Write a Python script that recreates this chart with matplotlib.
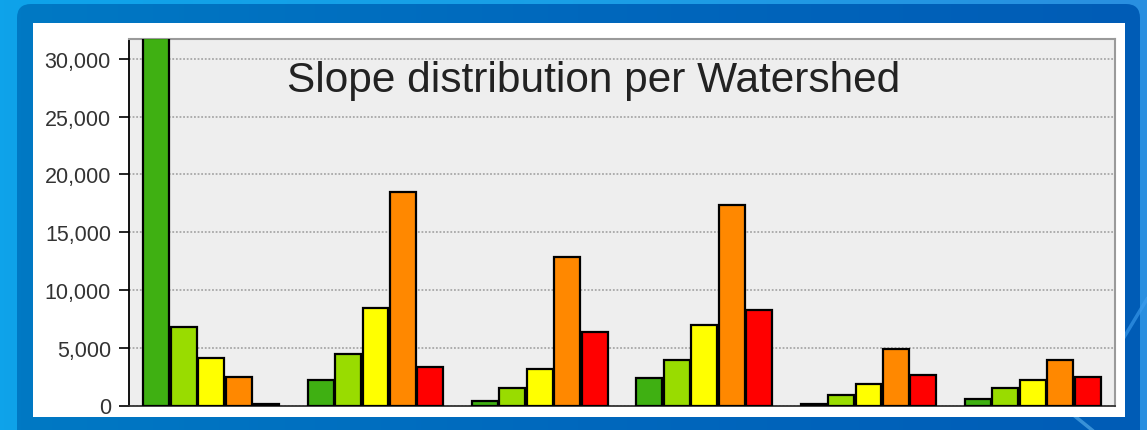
import numpy as np
import matplotlib
matplotlib.use("Agg")
import matplotlib.pyplot as plt
from matplotlib.patches import FancyBboxPatch, Rectangle
from matplotlib.colors import LinearSegmentedColormap
from matplotlib.ticker import FuncFormatter

plt.rcParams['font.family'] = ['Liberation Sans', 'DejaVu Sans']

# Watershed groups and slope classes
watersheds = ["WS1", "WS2", "WS3", "WS4", "WS5", "WS6"]
slope_classes = ["Flat", "Gentle", "Moderate", "Steep", "Very steep"]
class_colors = ["#3fb012", "#99dc00", "#ffff00", "#ff8800", "#ff0000"]

flat = [31800, 2240, 360, 2410, 150, 560]
gentle = [6770, 4490, 1490, 3970, 910, 1490]
moderate = [4110, 8440, 3160, 6970, 1860, 2240]
steep = [2440, 18460, 12840, 17370, 4890, 3940]
very_steep = [110, 3360, 6390, 8300, 2640, 2440]
series = [flat, gentle, moderate, steep, very_steep]

y_ticks = [0, 5000, 10000, 15000, 20000, 25000, 30000]
y_max = 31730
title = "Slope distribution per Watershed"

W, H = 1147, 431
fig = plt.figure(figsize=(W / 100, H / 100), dpi=100)

# ---- slide-style backdrop ----
bg = fig.add_axes([0, 0, 1, 1], zorder=-5)
bg.set_xlim(0, W)
bg.set_ylim(H, 0)
bg.axis("off")

grad = np.linspace(0, 1, 256)[None, :]
light = LinearSegmentedColormap.from_list("light", ["#0ea3ea", "#1a9fe6", "#2a8fe0"])
bg.imshow(grad, cmap=light, extent=(0, W, H, 0), aspect="auto", zorder=0)

frame = FancyBboxPatch((17, 5), 1123, 460, boxstyle="round,pad=0,rounding_size=14",
                       facecolor="none", edgecolor="none", zorder=1)
bg.add_patch(frame)
dark = LinearSegmentedColormap.from_list("dark", ["#0079c4", "#0068bd", "#005cb6"])
im = bg.imshow(grad, cmap=dark, extent=(17, 1140, H, 5), aspect="auto", zorder=1)
im.set_clip_path(frame)

# faint chevron strokes in the lower right corner
bg.plot([1066, 1092], [410, 431], color="#5fb4ee", lw=2.5, alpha=0.6, zorder=2)
bg.plot([1120, 1147], [345, 300], color="#3f9ff0", lw=2.5, alpha=0.6, zorder=2)

bg.add_patch(Rectangle((33, 24), 1092, 394, facecolor="white", edgecolor="none", zorder=3))

# ---- chart ----
ax = fig.add_axes([129 / W, 1 - 406.5 / H, (1115 - 129) / W, (406.5 - 40) / H])
ax.set_facecolor("#eeeeee")

x = np.arange(len(watersheds))
step = 1 / 6
bar_w = 0.158
for i, (vals, col) in enumerate(zip(series, class_colors)):
    offs = (i - 2) * step
    ax.bar(x + offs, vals, width=bar_w, color=col, edgecolor="black",
           linewidth=1.6, zorder=3)

ax.set_xlim(-0.5, len(watersheds) - 0.5)
ax.set_ylim(0, y_max)
ax.set_xticks([])
ax.set_yticks(y_ticks)
ax.yaxis.set_major_formatter(FuncFormatter(lambda v, p: f"{int(v):,}"))
ax.tick_params(axis="y", length=7, width=1.2, color="black", pad=6,
               labelsize=15.5, labelcolor="#333333")
ax.grid(axis="y", color="#a8a8a8", linestyle=(0, (1, 1)), linewidth=1.3, zorder=1)

ax.spines["left"].set_color("black")
ax.spines["left"].set_linewidth(1.3)
ax.spines["bottom"].set_color("#333333")
ax.spines["bottom"].set_linewidth(1.3)
for s in ("top", "right"):
    ax.spines[s].set_color("#9a9a9a")
    ax.spines[s].set_linewidth(1.5)

fig.text(287 / W, 1 - 81 / H, title, fontsize=30.5,
         color="#222222", ha="left", va="center", zorder=5)

fig.savefig("out.png", dpi=100)
